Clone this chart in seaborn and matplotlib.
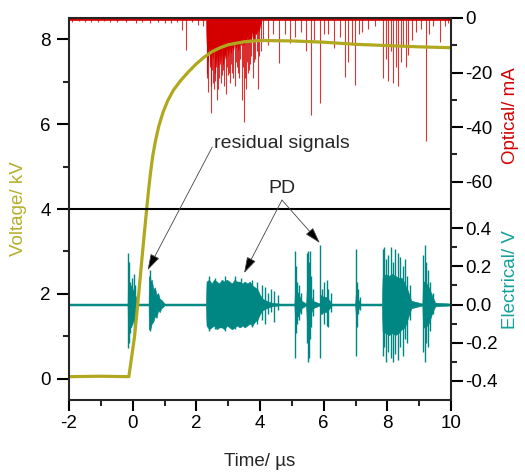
import matplotlib
matplotlib.use('Agg')
import matplotlib.pyplot as plt
from matplotlib.ticker import MultipleLocator, FixedLocator
import seaborn as sns

# ---- voltage (µs, kV) ----
volt_t = [-2.0, -1.0, -0.12, 0.06, 0.19, 0.30, 0.44, 0.50, 0.56, 0.63, 0.72, 0.82, 0.95, 1.10,
          1.28, 1.50, 1.75, 2.0, 2.25, 2.5, 2.75, 3.0, 3.5, 4.0, 5.0, 6.0, 7.0, 8.0, 9.0, 10.0]
volt_kv = [0.05, 0.06, 0.05, 1.0, 2.0, 2.9, 4.0, 4.45, 4.85, 5.25, 5.62, 5.95, 6.27, 6.55,
           6.80, 7.02, 7.23, 7.42, 7.58, 7.71, 7.80, 7.87, 7.94, 7.97, 7.96, 7.93, 7.88, 7.85,
           7.82, 7.8]

# ---- electrical signal (µs, V): dense envelope + single spikes ----
el_env_t = [-2.0, -0.16, -0.15, -0.05, 0.10, 0.15, 0.50, 0.51, 0.55, 0.60, 0.65, 0.70, 0.75,
            0.80, 0.85, 0.90, 1.00,
            2.30, 2.32, 2.40, 2.48, 2.56, 2.64, 2.72, 2.80, 2.88, 2.96, 3.04, 3.12, 3.20, 3.28,
            3.36, 3.44, 3.52, 3.60, 3.68, 3.76, 3.84, 3.92, 4.00, 4.08, 4.20, 4.35, 4.60,
            5.08, 5.10, 5.20, 5.30, 5.45, 5.47, 5.55, 5.65, 5.88, 5.90, 6.00, 6.10, 6.25,
            6.99, 7.01, 7.08, 7.15, 7.83, 7.85, 7.95, 8.05, 8.15, 8.25, 8.35, 8.45, 8.55,
            8.65, 8.75, 9.10, 9.12, 9.20, 9.30, 9.40, 9.50, 10.0]
el_env_hi = [0.005, 0.005, 0.10, 0.10, 0.04, 0.005, 0.005, 0.15, 0.12, 0.13, 0.08, 0.09, 0.05,
             0.06, 0.03, 0.025, 0.005,
             0.005, 0.12, 0.13, 0.11, 0.13, 0.12, 0.11, 0.13, 0.12, 0.13, 0.12, 0.11, 0.13, 0.12,
             0.12, 0.11, 0.12, 0.11, 0.12, 0.10, 0.09, 0.08, 0.05, 0.03, 0.02, 0.01, 0.005,
             0.005, 0.08, 0.06, 0.02, 0.005, 0.08, 0.07, 0.02, 0.005, 0.05, 0.04, 0.04, 0.005,
             0.005, 0.06, 0.03, 0.005, 0.005, 0.14, 0.16, 0.15, 0.16, 0.15, 0.14, 0.14, 0.11,
             0.07, 0.02, 0.005, 0.12, 0.12, 0.09, 0.05, 0.01, 0.005]
el_env_lo = [-0.005, -0.005, -0.10, -0.12, -0.04, -0.005, -0.005, -0.13, -0.13, -0.10, -0.09, -0.06,
             -0.07, -0.03, -0.04, -0.02, -0.005,
             -0.005, -0.11, -0.13, -0.12, -0.11, -0.13, -0.12, -0.12, -0.13, -0.11,
             -0.12, -0.13, -0.12, -0.11, -0.12, -0.11, -0.12, -0.11, -0.10, -0.11, -0.09, -0.08,
             -0.05, -0.03, -0.02, -0.01, -0.005, -0.005, -0.08, -0.06, -0.02, -0.005, -0.09,
             -0.08, -0.02, -0.005, -0.05, -0.04, -0.04, -0.005, -0.005, -0.06, -0.03, -0.005,
             -0.005, -0.14, -0.15, -0.16, -0.15, -0.16, -0.15, -0.13, -0.12, -0.07, -0.02,
             -0.005, -0.12, -0.12, -0.10, -0.05, -0.01, -0.005]

el_spk_t = [-0.14, -0.11, -0.08, -0.02, 0.03, 0.06, 0.53, 0.56,
            2.40, 2.60, 2.90, 3.20, 3.40, 3.75, 3.90, 4.05, 4.15, 4.25, 4.35, 4.45, 4.55,
            5.10, 5.13, 5.17, 5.22, 5.28, 5.47, 5.50, 5.53, 5.57, 5.61, 5.66,
            5.90, 5.95, 6.02, 6.10, 6.15, 6.22, 7.01, 7.04, 7.08, 7.13,
            7.85, 7.90, 7.97, 8.03, 8.10, 8.17, 8.25, 8.32, 8.40, 8.48, 8.55, 8.62, 8.70,
            9.12, 9.17, 9.22, 9.28, 9.35, 9.42]
el_spk_hi = [0.27, 0.22, 0.12, 0.14, 0.16, 0.10, 0.18, 0.14,
             0.15, 0.14, 0.15, 0.15, 0.14, 0.13, 0.12, 0.10, 0.09, 0.06, 0.08, 0.07, 0.05,
             0.28, 0.20, 0.12, 0.10, 0.06, 0.27, 0.28, 0.22, 0.28, 0.15, 0.08,
             0.31, 0.08, 0.12, 0.13, 0.08, 0.06, 0.29, 0.12, 0.08, 0.04,
             0.29, 0.30, 0.24, 0.26, 0.30, 0.22, 0.29, 0.27, 0.25, 0.20, 0.24, 0.15, 0.10,
             0.26, 0.31, 0.22, 0.18, 0.12, 0.06]
el_spk_lo = [-0.23, -0.20, -0.15, -0.10, -0.18, -0.12, -0.14, -0.13,
             -0.14, -0.13, -0.14, -0.13, -0.12, -0.12, -0.10, -0.08, -0.10, -0.05, -0.04, -0.09, -0.03,
             -0.28, -0.15, -0.10, -0.08, -0.05, -0.20, -0.30, -0.28, -0.18, -0.12, -0.06,
             -0.28, -0.05, -0.10, -0.11, -0.12, -0.04, -0.27, -0.12, -0.05, -0.03,
             -0.27, -0.22, -0.30, -0.25, -0.28, -0.30, -0.26, -0.29, -0.22, -0.27, -0.18, -0.20, -0.08,
             -0.25, -0.30, -0.20, -0.22, -0.14, -0.05]

# ---- optical signal (µs, mA) ----
opt_env_t = [-2.0, 2.30, 2.32, 2.36, 2.40, 2.44, 2.48, 2.52, 2.56, 2.60, 2.64, 2.68, 2.72, 2.76,
             2.80, 2.84, 2.88, 2.92, 2.96, 3.00, 3.04, 3.08, 3.12, 3.16, 3.20, 3.24, 3.28, 3.32,
             3.36, 3.40, 3.44, 3.48, 3.52, 3.56, 3.60, 3.64, 3.68, 3.72, 3.76, 3.80, 3.84, 3.88,
             3.92, 3.96, 4.00, 4.05, 10.0]
opt_env_v = [-0.8, -0.8, -9, -16, -11, -17, -12, -15, -10, -17, -13, -18, -12, -16,
             -11, -17, -13, -15, -10, -14, -9, -13, -10, -12, -8, -11, -9, -12,
             -8, -10, -7, -10, -8, -9, -6, -9, -7, -8, -5, -8, -5, -6,
             -4, -5, -3, -0.8, -0.8]

opt_spk_t = [-1.9, -1.7, -1.5, -1.3, -1.1, -0.9, -0.7, -0.5, -0.2, 0.1, 0.3, 0.55, 0.8, 1.0, 1.2,
             1.4, 1.55, 1.68, 1.85, 2.05, 2.2,
             2.33, 2.35, 2.37, 2.42, 2.45, 2.47, 2.50, 2.52, 2.56, 2.58, 2.60, 2.63, 2.66, 2.69,
             2.72, 2.75, 2.78, 2.82, 2.85, 2.88, 2.92, 2.95, 2.98, 3.02, 3.05, 3.08, 3.12, 3.15,
             3.20, 3.25, 3.28, 3.32, 3.35, 3.38, 3.42, 3.46, 3.50, 3.53, 3.56, 3.59, 3.62, 3.66,
             3.70, 3.73, 3.78, 3.82, 3.85, 3.90, 3.95, 3.98, 4.02, 4.10,
             4.25, 4.40, 4.60, 4.80, 4.95, 5.10, 5.30, 5.45, 5.61, 5.70, 5.90, 6.00, 6.15, 6.34,
             6.50, 6.68, 6.78, 6.88, 6.99, 7.10, 7.20, 7.40, 7.60, 7.87, 7.95, 8.03, 8.10, 8.19,
             8.26, 8.33, 8.43, 8.50, 8.58, 8.66, 8.76, 8.90, 9.05, 9.23, 9.30, 9.45, 9.65, 9.80, 9.90]
opt_spk_v = [-1.5, -1.2, -1.5, -1.3, -1.6, -1.2, -1.5, -1.3, -1.4, -1.8, -1.5, -2.0, -1.6, -1.8, -2.0,
             -1.5, -4.4, -11.7, -1.5, -2.5, -3.0,
             -22, -20, -27, -18, -25, -35, -19, -24, -26, -23, -20, -18, -30, -26,
             -22, -17, -24, -21, -19, -25, -28, -18, -21, -20, -24, -17, -20, -22,
             -25, -16, -18, -20, -22, -15, -30, -18, -38, -22, -26, -16, -20, -19,
             -17, -14, -22, -16, -15, -12, -26, -14, -12, -8,
             -10, -6, -16.6, -6, -9, -7, -5, -12, -35.5, -8, -31, -6, -6, -11,
             -7, -21.5, -16, -9, -24.6, -6, -5, -4, -3, -22, -15, -23, -12, -24,
             -18, -25, -16, -10, -18, -13.6, -8, -5, -4, -45, -6, -3, -8.7, -3, -2]

C_VOLT = '#b0a81e'
C_EL = '#008683'
C_OPT = '#d40000'

sns.set_style('ticks')
plt.rcParams['font.family'] = ['Liberation Sans', 'DejaVu Sans']
plt.rcParams['axes.unicode_minus'] = False
plt.rcParams['axes.linewidth'] = 1.5

fig = plt.figure(figsize=(5.25, 4.73), dpi=100)
L, B, W, H = 69 / 525, 1 - 400 / 473, 382 / 525, 382 / 473
ax_el = fig.add_axes([L, B, W, H / 2])
ax_op = fig.add_axes([L, B + H / 2, W, H / 2])
ax_v = fig.add_axes([L, B, W, H])
ax_v.patch.set_visible(False)

FS = 13.5
tick_kw = dict(direction='out', width=1.5, labelsize=FS, colors='black')

# electrical
ax_el.fill_between(el_env_t, el_env_lo, el_env_hi, color=C_EL, lw=0.4)
ax_el.vlines(el_spk_t, el_spk_lo, el_spk_hi, color=C_EL, lw=1.0)
# optical
ax_op.fill_between(opt_env_t, opt_env_v, 0, color=C_OPT, lw=0.3)
ax_op.vlines(opt_spk_t, opt_spk_v, 0, color=C_OPT, lw=0.8, alpha=0.8)

for ax in (ax_el, ax_op):
    ax.set_xlim(-2, 10)
    for s in ax.spines.values():
        s.set_visible(False)
    ax.set_xticks([])
    ax.yaxis.tick_right()
    ax.yaxis.set_label_position('right')
    ax.tick_params(axis='y', which='major', length=8.3, pad=2, **tick_kw)
    ax.tick_params(axis='y', which='minor', length=4, direction='out', width=1.5)
    ax.patch.set_visible(False)

ax_op.set_ylim(-70, 0)
ax_op.yaxis.set_major_locator(FixedLocator([-60, -40, -20, 0]))
ax_op.yaxis.set_minor_locator(FixedLocator([-50, -30, -10]))
ax_op.set_ylabel('Optical/ mA', color=C_OPT, fontsize=FS)
ax_op.yaxis.set_label_coords(1.133, 0.49)

ax_el.set_ylim(-0.5, 0.5)
ax_el.yaxis.set_major_locator(FixedLocator([-0.4, -0.2, 0.0, 0.2, 0.4]))
ax_el.yaxis.set_minor_locator(FixedLocator([-0.3, -0.1, 0.1, 0.3]))
ax_el.set_ylabel('Electrical/ V', color='#13a09c', fontsize=FS)
ax_el.yaxis.set_label_coords(1.133, 0.63)

# voltage on top
sns.lineplot(x=volt_t, y=volt_kv, ax=ax_v, color=C_VOLT, lw=2.3, sort=False)
ax_v.axhline(4, color='black', lw=1.5)
ax_v.set_xlim(-2, 10)
ax_v.set_ylim(-0.5, 8.5)
ax_v.xaxis.set_major_locator(MultipleLocator(2))
ax_v.xaxis.set_minor_locator(MultipleLocator(1))
ax_v.yaxis.set_major_locator(FixedLocator([0, 2, 4, 6, 8]))
ax_v.yaxis.set_minor_locator(FixedLocator([1, 3, 5, 7]))
ax_v.tick_params(axis='y', which='major', length=8.3, pad=5, **tick_kw)
ax_v.tick_params(axis='x', which='major', length=8, pad=3, **tick_kw)
ax_v.tick_params(which='minor', length=4, direction='out', width=1.5)
for s in ax_v.spines.values():
    s.set_visible(True)
    s.set_linewidth(1.5)
ax_v.set_ylabel('Voltage/ kV', color='#b5ae2a', fontsize=FS)
ax_v.yaxis.set_label_coords(-0.11, 0.5)
ax_v.set_xlabel('Time/ µs', fontsize=FS)
ax_v.xaxis.set_label_coords(0.5, -0.14)

arrow = dict(arrowstyle='-|>,head_length=1.0,head_width=0.3', mutation_scale=10,
             fc='black', ec='#444444', lw=0.6, shrinkA=0, shrinkB=0)
ax_v.text(2.56, 5.44, 'residual signals', fontsize=14, ha='left', va='baseline')
ax_v.annotate('', xy=(0.47, 2.56), xytext=(2.5, 5.46), arrowprops=arrow)
ax_v.text(4.69, 4.38, 'PD', fontsize=14, ha='center', va='baseline')
ax_v.annotate('', xy=(3.5, 2.49), xytext=(4.69, 4.21), arrowprops=arrow)
ax_v.annotate('', xy=(5.88, 3.2), xytext=(4.69, 4.21), arrowprops=arrow)

fig.savefig('out.png', dpi=100)
